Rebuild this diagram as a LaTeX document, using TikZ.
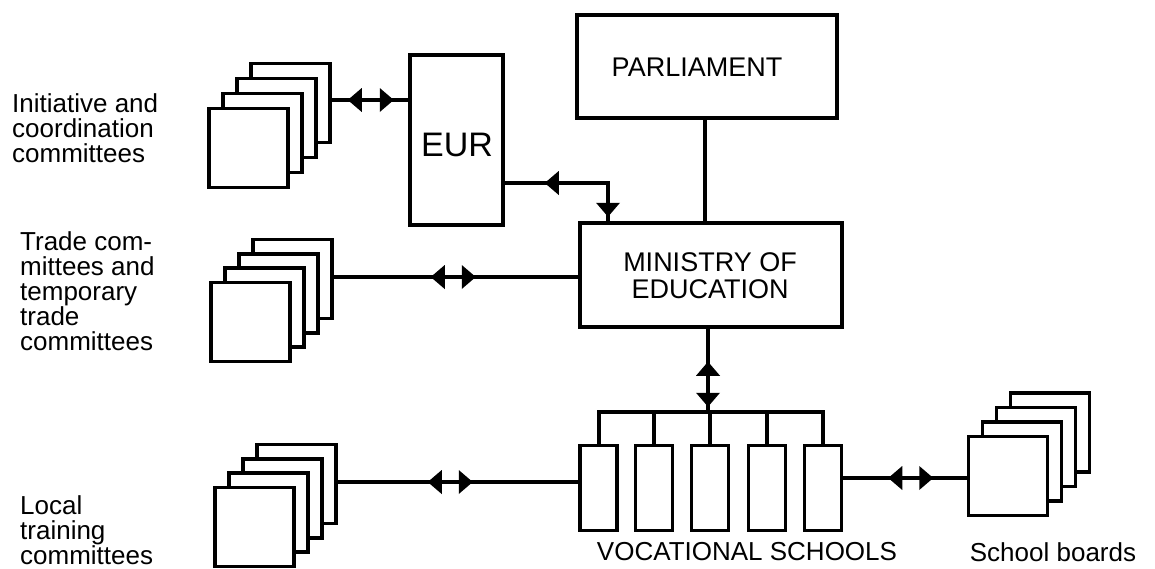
\documentclass[tikz,border=0pt]{standalone}
\usepackage{fontspec}
\setmainfont{Liberation Sans}
\usetikzlibrary{arrows.meta,decorations.markings}
\tikzset{mtip/.tip={Triangle[length=14pt,width=24pt]}}
\begin{document}
\begin{tikzpicture}[x=1pt,y=-1pt,
  box/.style={draw,line width=3.5pt,fill=white,inner sep=0pt},
  sq/.style={box,minimum width=79pt,minimum height=79pt},
  school/.style={box,minimum width=37pt,minimum height=85pt},
  conn/.style={line width=4pt},
  lbl/.style={font=\fontsize{26}{25}\selectfont,align=left,anchor=west,inner sep=0pt},
  mid/.style={font=\fontsize{26}{28}\selectfont,align=center,inner sep=0pt},
  big/.style={font=\fontsize{27}{27}\selectfont,align=center,inner sep=0pt},
  twoarr/.style 2 args={postaction={decorate},decoration={markings,
     mark=at position #1pt with {\arrowreversed[line width=0pt]{mtip}},
     mark=at position #2pt with {\arrow[line width=0pt]{mtip}}}}
]
\useasboundingbox (0,0) rectangle (1155,568);
% top-left stack
\foreach \i in {4,3,2,1}{
  \node[sq] (a\i) at ({248.5+14*(\i-1)},{148-15*(\i-1)}) {};
}
% middle stack
\foreach \i in {4,3,2,1}{
  \node[sq] (b\i) at ({250.5+14*(\i-1)},{322-14.3*(\i-1)}) {};
}
% bottom stack
\foreach \i in {4,3,2,1}{
  \node[sq] (c\i) at ({254.5+14*(\i-1)},{527-14.3*(\i-1)}) {};
}
% school boards stack
\foreach \i in {4,3,2,1}{
  \node[sq] (d\i) at ({1008+14*(\i-1)},{476-14.5*(\i-1)}) {};
}
% main boxes
\node[box,minimum width=93pt,minimum height=170pt] (eur) at (456.5,140) {};
\node[font=\fontsize{34}{34}\selectfont,inner sep=0pt] (eurt) at (457,145) {EUR};
\node[box,minimum width=260pt,minimum height=103pt] (parl) at (707,66.5) {};
\node[big] (parlt) at (697,67) {PARLIAMENT};
\node[box,minimum width=262pt,minimum height=104pt] (min) at (711,275) {};
\node[big] (mint) at (710,276) {MINISTRY OF\\EDUCATION};
% schools
\node[school] (s1) at (598.5,488) {};
\node[school] (s2) at (654,488) {};
\node[school] (s3) at (710,488) {};
\node[school] (s4) at (767,488) {};
\node[school] (s5) at (823,488) {};
\coordinate (bus) at (708,412);
% labels
\node[lbl] (l1) at (12,128) {Initiative and\\coordination\\committees};
\node[lbl] (l2) at (20,291) {Trade com-\\mittees and\\temporary\\trade\\committees};
\node[lbl] (l3) at (20,530) {Local\\training\\committees};
\node[mid] (l4) at (747,552) {VOCATIONAL SCHOOLS};
\node[mid] (l5) at (1053,552) {School boards};
% connectors
\draw[conn,twoarr={16}{62}] (a4.east |- 0,100) -- (eur.west |- 0,100);
\draw[conn,twoarr={97}{142}] (b4.east |- 0,277) -- (min.west |- 0,277);
\draw[conn,twoarr={90}{135}] (c4.east |- 0,482) -- (s1.west |- 0,482);
\draw[conn,twoarr={45}{90}] (s5.east |- 0,478) -- (d1.west |- 0,478);
\draw[conn] (parl.south -| 705,0) -- (min.north -| 705,0);
\draw[conn,postaction={decorate},decoration={markings,
   mark=at position 40pt with {\arrowreversed[line width=0pt]{mtip}},
   mark=at position 137pt with {\arrow[line width=0pt]{mtip}}}]
   (eur.east |- 0,183) -| (min.north -| 608,0);
\draw[conn,twoarr={33}{78}] (min.south -| bus) -- (bus);
\draw[conn] (s1.north) |- (bus) -| (s5.north);
\draw[conn] (s2.north) -- (s2.north |- bus);
\draw[conn] (s3.north) -- (s3.north |- bus);
\draw[conn] (s4.north) -- (s4.north |- bus);
\end{tikzpicture}
\end{document}
